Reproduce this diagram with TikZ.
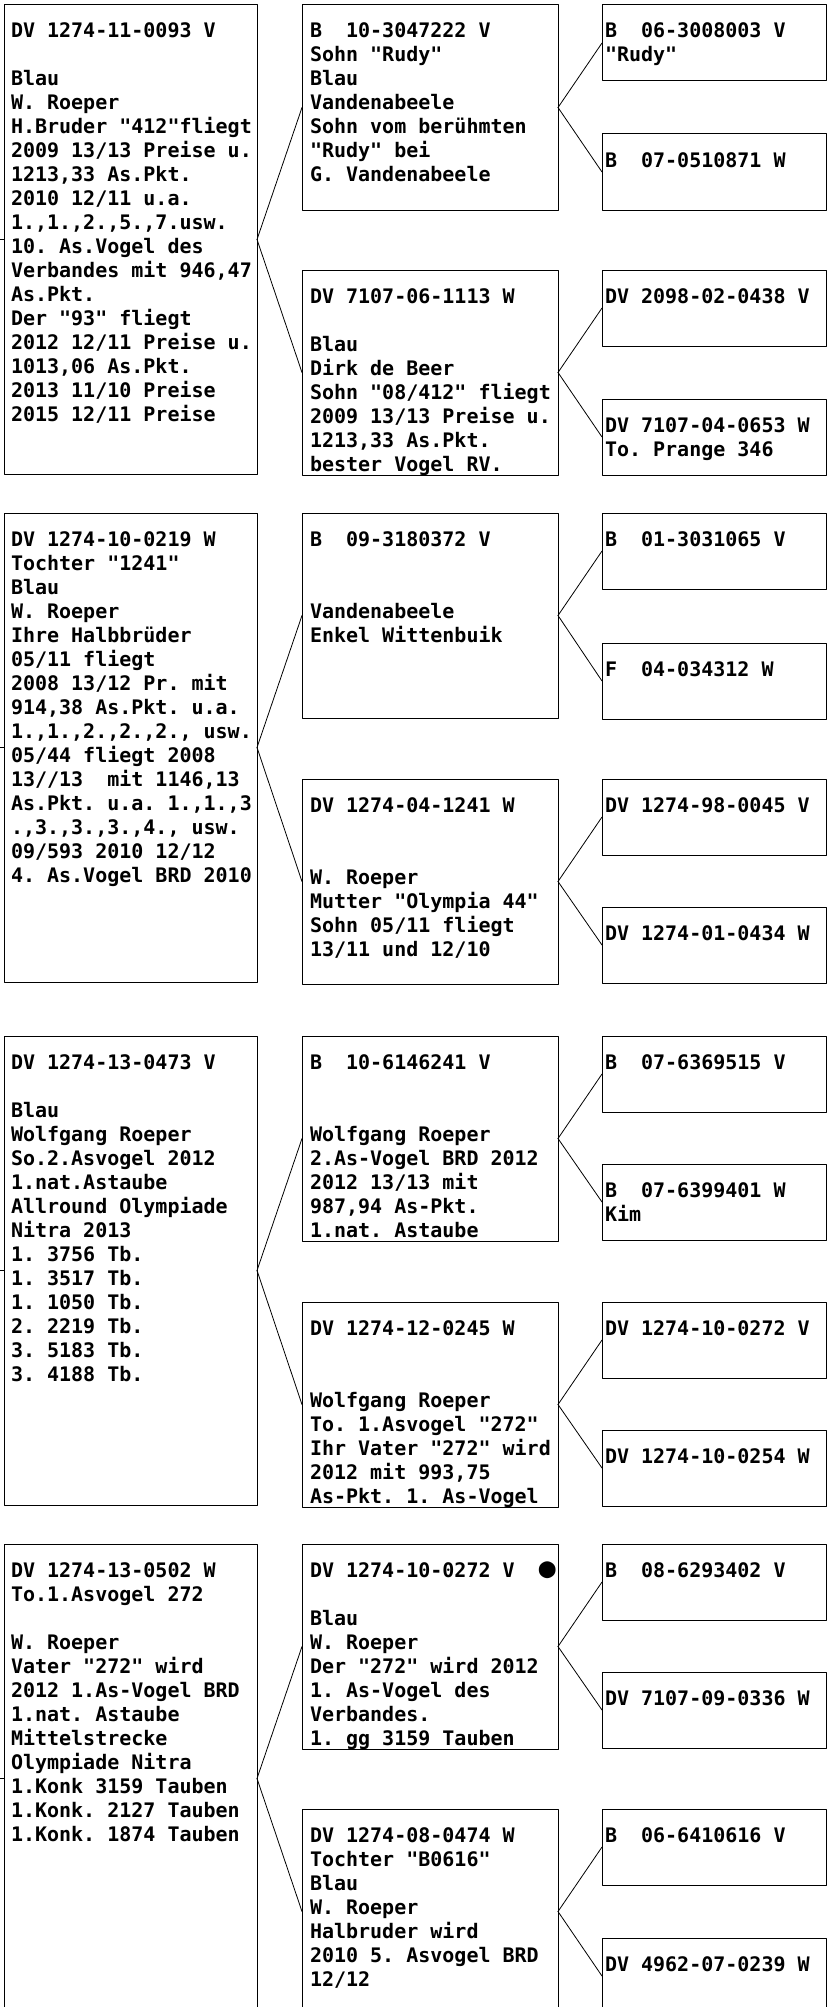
\documentclass[tikz,border=0pt]{standalone}
\usepackage{graphicx}
\usepackage{fontspec}
\setmonofont{DejaVu Sans Mono}
\newcommand{\cardfont}{\ttfamily\bfseries\fontsize{20}{24}\selectfont}

\begin{document}
\begin{tikzpicture}[x=1pt,y=-1pt,line join=round,line cap=round]
  \tikzset{card/.style n args={3}{draw,line width=1pt,inner sep=0pt,outer sep=0pt,anchor=north west,font=\cardfont,
      execute at begin node={\begin{minipage}[t][#2pt][t]{#1pt}\leftskip=#3pt\relax\rule{0pt}{33pt}},
      execute at end node={\end{minipage}}},
    birdbox/.style={card={253}{469}{7}},
    parentbox/.style={card={256}{205}{8}},
    grandbox/.style={card={224}{76}{3}},
    link/.style={line width=0.8pt}}
  \useasboundingbox (0,0) rectangle (827,2007);
  \clip (0,0) rectangle (827,2007);

  % block 1
  \node[birdbox] (p1) at (4,5) {DV 1274-11-0093 V\\ \null\\
    Blau\\ W. Roeper\\ H.Bruder "412"fliegt\\ 2009 13/13 Preise u.\\ 1213,33 As.Pkt.\\
    2010 12/11 u.a.\\ 1.,1.,2.,5.,7.usw.\\ 10. As.Vogel des\\ Verbandes mit 946,47\\
    As.Pkt.\\ Der "93" fliegt\\ 2012 12/11 Preise u.\\ 1013,06 As.Pkt.\\
    2013 11/10 Preise\\ 2015 12/11 Preise};
  \node[parentbox] (s1) at (302,5) {B~~10-3047222 V\\ Sohn "Rudy"\\ Blau\\ Vandenabeele\\
    Sohn vom berühmten\\ "Rudy" bei\\ G. Vandenabeele};
  \node[parentbox] (d1) at (302,270) {DV 7107-06-1113 W\\ \null\\ Blau\\ Dirk de Beer\\
    Sohn "08/412" fliegt\\ 2009 13/13 Preise u.\\ 1213,33 As.Pkt.\\ bester Vogel RV.};
  \node[grandbox] (ss1) at (602,5) {B~~06-3008003 V\\ "Rudy"};
  \node[grandbox] (sd1) at (602,134) {B~~07-0510871 W};
  \node[grandbox] (ds1) at (602,270) {DV 2098-02-0438 V};
  \node[grandbox] (dd1) at (602,399) {DV 7107-04-0653 W\\ To. Prange 346};

  % block 2
  \node[birdbox] (p2) at (4,513) {DV 1274-10-0219 W\\ Tochter "1241"\\ Blau\\ W. Roeper\\
    Ihre Halbbrüder\\ 05/11 fliegt\\ 2008 13/12 Pr. mit\\ 914,38 As.Pkt. u.a.\\
    1.,1.,2.,2.,2., usw.\\ 05/44 fliegt 2008\\ 13//13~~mit 1146,13\\ As.Pkt. u.a. 1.,1.,3\\
    .,3.,3.,3.,4., usw.\\ 09/593 2010 12/12\\ 4. As.Vogel BRD 2010};
  \node[parentbox] (s2) at (302,513) {B~~09-3180372 V\\ \null\\ \null\\ Vandenabeele\\ Enkel Wittenbuik};
  \node[parentbox] (d2) at (302,779) {DV 1274-04-1241 W\\ \null\\ \null\\ W. Roeper\\
    Mutter "Olympia 44"\\ Sohn 05/11 fliegt\\ 13/11 und 12/10};
  \node[grandbox] (ss2) at (602,513) {B~~01-3031065 V};
  \node[grandbox] (sd2) at (602,643) {F~~04-034312 W};
  \node[grandbox] (ds2) at (602,779) {DV 1274-98-0045 V};
  \node[grandbox] (dd2) at (602,907) {DV 1274-01-0434 W};

  % block 3
  \node[birdbox] (p3) at (4,1036) {DV 1274-13-0473 V\\ \null\\ Blau\\ Wolfgang Roeper\\
    So.2.Asvogel 2012\\ 1.nat.Astaube\\ Allround Olympiade\\ Nitra 2013\\ 1. 3756 Tb.\\
    1. 3517 Tb.\\ 1. 1050 Tb.\\ 2. 2219 Tb.\\ 3. 5183 Tb.\\ 3. 4188 Tb.};
  \node[parentbox] (s3) at (302,1036) {B~~10-6146241 V\\ \null\\ \null\\ Wolfgang Roeper\\
    2.As-Vogel BRD 2012\\ 2012 13/13 mit\\ 987,94 As-Pkt.\\ 1.nat. Astaube};
  \node[parentbox] (d3) at (302,1302) {DV 1274-12-0245 W\\ \null\\ \null\\ Wolfgang Roeper\\
    To. 1.Asvogel "272"\\ Ihr Vater "272" wird\\ 2012 mit 993,75\\ As-Pkt. 1. As-Vogel};
  \node[grandbox] (ss3) at (602,1036) {B~~07-6369515 V};
  \node[grandbox] (sd3) at (602,1164) {B~~07-6399401 W\\ Kim};
  \node[grandbox] (ds3) at (602,1302) {DV 1274-10-0272 V};
  \node[grandbox] (dd3) at (602,1430) {DV 1274-10-0254 W};

  % block 4
  \node[birdbox] (p4) at (4,1544) {DV 1274-13-0502 W\\ To.1.Asvogel 272\\ \null\\ W. Roeper\\
    Vater "272" wird\\ 2012 1.As-Vogel BRD\\ 1.nat. Astaube\\ Mittelstrecke\\
    Olympiade Nitra\\ 1.Konk 3159 Tauben\\ 1.Konk. 2127 Tauben\\ 1.Konk. 1874 Tauben};
  \node[parentbox] (s4) at (302,1544) {DV 1274-10-0272 V~~\scalebox{1.4}{●}\\ \null\\ Blau\\ W. Roeper\\
    Der "272" wird 2012\\ 1. As-Vogel des\\ Verbandes.\\ 1. gg 3159 Tauben};
  \node[parentbox] (d4) at (302,1809) {DV 1274-08-0474 W\\ Tochter "B0616"\\ Blau\\ W. Roeper\\
    Halbruder wird\\ 2010 5. Asvogel BRD\\ 12/12};
  \node[grandbox] (ss4) at (602,1544) {B~~08-6293402 V};
  \node[grandbox] (sd4) at (602,1672) {DV 7107-09-0336 W};
  \node[grandbox] (ds4) at (602,1809) {B~~06-6410616 V};
  \node[grandbox] (dd4) at (602,1938) {DV 4962-07-0239 W};

  \foreach \k in {1,...,4}{
    \coordinate (in\k) at ([xshift=-10pt]p\k.west);
    \draw[link] (in\k) -- (p\k.west);
    \draw[link] (p\k.east) -- (s\k.west);
    \draw[link] (p\k.east) -- (d\k.west);
    \draw[link] (s\k.east) -- (ss\k.west);
    \draw[link] (s\k.east) -- (sd\k.west);
    \draw[link] (d\k.east) -- (ds\k.west);
    \draw[link] (d\k.east) -- (dd\k.west);
  }
\end{tikzpicture}
\end{document}
